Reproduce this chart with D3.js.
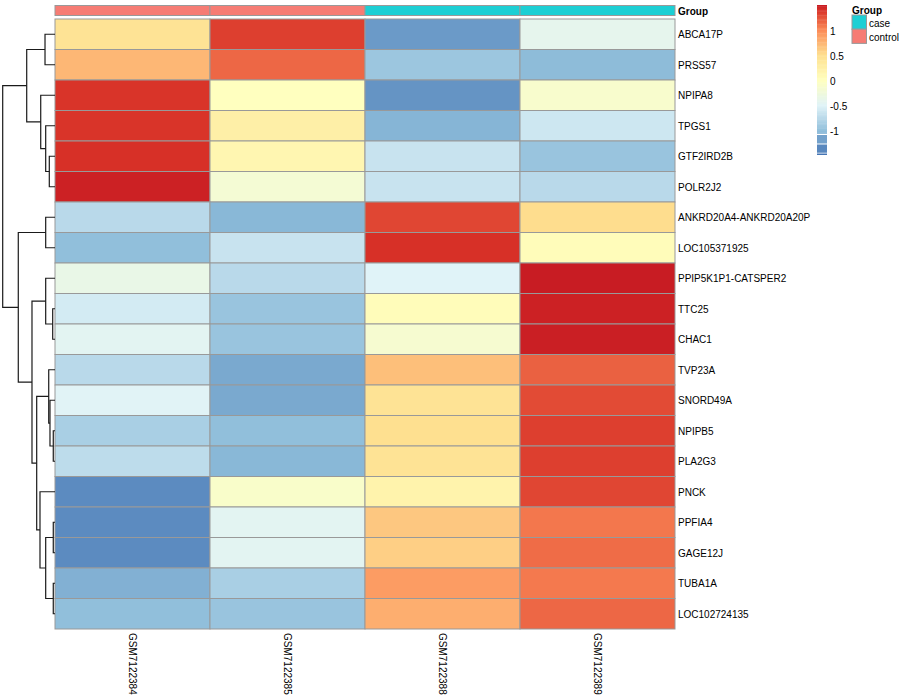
<!DOCTYPE html>
<html><head><meta charset="utf-8">
<script src="https://cdn.jsdelivr.net/npm/d3@7"></script>
<style>body{margin:0;background:#fff} svg{display:block} text{font-family:"Liberation Sans",Arial,sans-serif;fill:#000}</style>
</head><body><svg id="c" width="900" height="700"></svg>
<script>
// ---------- data ----------
const samples = ["GSM7122384","GSM7122385","GSM7122388","GSM7122389"];
const sampleGroup = ["control","control","case","case"];
const genes = ["ABCA17P","PRSS57","NPIPA8","TPGS1","GTF2IRD2B","POLR2J2","ANKRD20A4-ANKRD20A20P","LOC105371925","PPIP5K1P1-CATSPER2","TTC25","CHAC1","TVP23A","SNORD49A","NPIPB5","PLA2G3","PNCK","PPFIA4","GAGE12J","TUBA1A","LOC102724135"];
const values = [
  [ 0.45,  1.35, -1.25, -0.40],
  [ 0.75,  1.17, -0.93, -1.02],
  [ 1.40,  0.00, -1.29, -0.12],
  [ 1.40,  0.26, -1.07, -0.62],
  [ 1.42,  0.15, -0.65, -0.95],
  [ 1.48, -0.18, -0.65, -0.75],
  [-0.75, -1.05,  1.32,  0.52],
  [-1.00, -0.65,  1.42,  0.05],
  [-0.35, -0.75, -0.50,  1.50],
  [-0.58, -0.95,  0.05,  1.48],
  [-0.45, -0.95, -0.15,  1.49],
  [-0.75, -1.15,  0.70,  1.20],
  [-0.48, -1.15,  0.45,  1.30],
  [-0.85, -1.00,  0.50,  1.35],
  [-0.72, -1.05,  0.45,  1.35],
  [-1.35, -0.10,  0.20,  1.32],
  [-1.35, -0.45,  0.65,  1.10],
  [-1.35, -0.45,  0.60,  1.15],
  [-1.10, -0.85,  0.91,  1.09],
  [-1.00, -0.95,  0.80,  1.17]
];
const groupLevels = ["case","control"];
const groupColors = ["#1DCFD4","#F67C74"];
const paletteStops = [-1.5,-1,-0.5,0,0.5,1,1.42,1.5];
const paletteColors = ["#4575B4","#91BFDB","#E0F3F8","#FFFFBF","#FEE090","#FC8D59","#D73027","#C81C23"];
const legendTicks = [1,0.5,0,-0.5,-1];
const legendGradient = [1.5,-1.07];
const legendBlocks = [[-1.10,-1.27,-1.2],[-1.29,-1.455,-1.37],[-1.47,-1.5,-1.5]];
// row dendrogram: leaves are row indices, h = merge height (root = 1)
const rowTree = {h:1.0, c:[
  {h:0.541, c:[{h:0.191,c:[0,1]},{h:0.273,c:[2,{h:0.178,c:[3,{h:0.109,c:[4,5]}]}]}]},
  {h:0.702, c:[{h:0.178,c:[6,7]},
    {h:0.44, c:[{h:0.178,c:[8,{h:0.044,c:[9,10]}]},
      {h:0.35, c:[{h:0.12,c:[11,{h:0.096,c:[12,{h:0.033,c:[13,14]}]}]},
        {h:0.287,c:[15,{h:0.178,c:[{h:0.033,c:[16,17]},{h:0.033,c:[18,19]}]}]}]}]}]}]};

// ---------- layout ----------
const svg = d3.select("#c");
const L = {x0:55, x1:675, y0:19, y1:629};
const x = d3.scaleBand().domain(samples).range([L.x0, L.x1]);
const y = d3.scaleBand().domain(genes).range([L.y0, L.y1]);
const color = d3.scaleLinear().domain(paletteStops).range(paletteColors).interpolate(d3.interpolateRgb).clamp(true);

// annotation bar
svg.append("g").selectAll("rect").data(samples).join("rect")
  .attr("x", d => x(d)).attr("y", 5.5).attr("width", x.bandwidth()).attr("height", 10)
  .attr("fill", (d,i) => groupColors[groupLevels.indexOf(sampleGroup[i])])
  .attr("stroke", "#999").attr("stroke-width", 1);
svg.append("text").attr("x", 678).attr("y", 11).attr("dominant-baseline","central")
  .attr("font-size", 10).attr("font-weight","bold").text("Group");

// cells
const cells = [];
values.forEach((row, r) => row.forEach((v, c) => cells.push({g: genes[r], s: samples[c], v})));
svg.append("g").selectAll("rect").data(cells).join("rect")
  .attr("x", d => x(d.s)).attr("y", d => y(d.g))
  .attr("width", x.bandwidth()).attr("height", y.bandwidth())
  .attr("fill", d => color(d.v)).attr("stroke", "#999").attr("stroke-width", 1);

// row labels
svg.append("g").selectAll("text").data(genes).join("text")
  .attr("x", 678).attr("y", d => y(d) + y.bandwidth()/2 + 0.5)
  .attr("dominant-baseline","central").attr("font-size", 10).text(d => d);

// column labels
svg.append("g").selectAll("text").data(samples).join("text")
  .attr("transform", d => `translate(${x(d) + x.bandwidth()/2},633) rotate(90)`)
  .attr("dominant-baseline","central").attr("font-size", 10).text(d => d);

// dendrogram
const hx = d3.scaleLinear().domain([0,1]).range([L.x0, 2.7]);
const dg = svg.append("g").attr("fill","none").attr("stroke","#1a1a1a").attr("stroke-width",1.2);
function drawNode(n){
  if (typeof n === "number") return {y: y(genes[n]) + y.bandwidth()/2, h: 0};
  const a = drawNode(n.c[0]), b = drawNode(n.c[1]);
  const xn = hx(n.h);
  dg.append("path").attr("d", `M${hx(a.h)},${a.y}H${xn}V${b.y}H${hx(b.h)}`);
  return {y: (a.y + b.y)/2, h: n.h};
}
drawNode(rowTree);

// color legend
const ly = d3.scaleLinear().domain([1.5,-1.5]).range([5,155]);
const lg = svg.append("g");
const steps = d3.range(0, 100).map(i => legendGradient[0] + (legendGradient[1]-legendGradient[0]) * i/100);
const stepH = (ly(legendGradient[1]) - ly(legendGradient[0]))/100;
lg.selectAll("rect.g").data(steps).join("rect").attr("class","g")
  .attr("x", 817).attr("y", d => ly(d)).attr("width", 10).attr("height", stepH + 0.4)
  .attr("fill", d => color(d));
lg.selectAll("rect.b").data(legendBlocks).join("rect").attr("class","b")
  .attr("x", 817).attr("y", d => ly(d[0])).attr("width", 10).attr("height", d => ly(d[1]) - ly(d[0]))
  .attr("fill", d => color(d[2]));
lg.selectAll("text").data(legendTicks).join("text")
  .attr("x", 830).attr("y", d => ly(d) + 1.2).attr("dominant-baseline","central")
  .attr("font-size", 10).text(d => d);

// group legend
const gl = svg.append("g");
gl.append("text").attr("x", 852).attr("y", 10).attr("dominant-baseline","central")
  .attr("font-size", 10).attr("font-weight","bold").text("Group");
gl.selectAll("rect").data(groupLevels).join("rect")
  .attr("x", 852).attr("y", (d,i) => 15 + i*14.2).attr("width", 14.5).attr("height", 14.2)
  .attr("fill", (d,i) => groupColors[i]).attr("stroke","#999").attr("stroke-width",1);
gl.selectAll("text.l").data(groupLevels).join("text").attr("class","l")
  .attr("x", 869).attr("y", (d,i) => 23 + i*14.2).attr("dominant-baseline","central")
  .attr("font-size", 10).text(d => d);
</script></body></html>
